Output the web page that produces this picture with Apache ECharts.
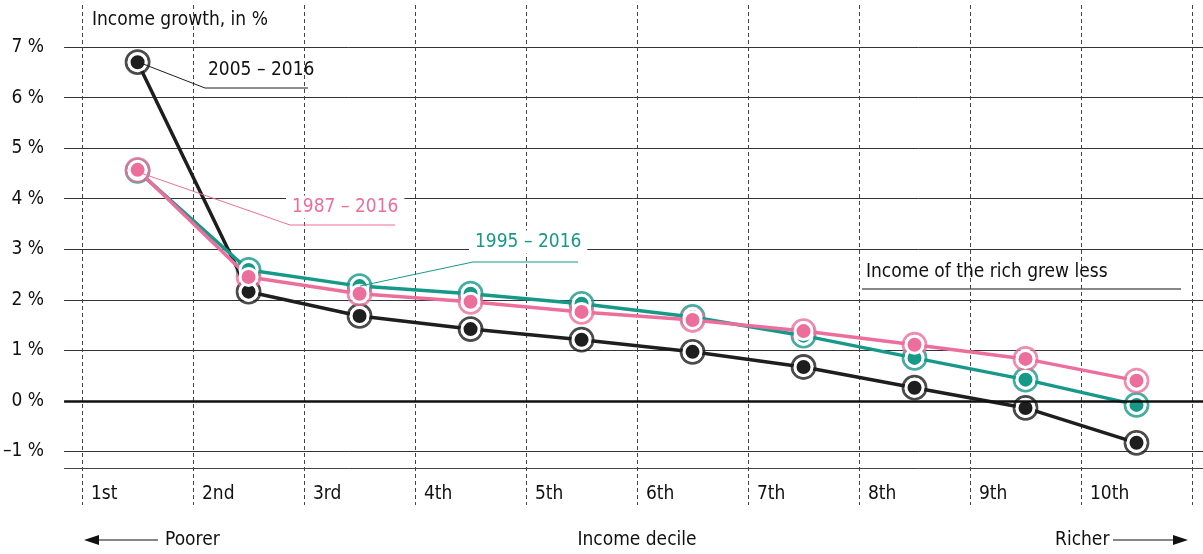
<!DOCTYPE html>
<html>
<head>
<meta charset="utf-8">
<script src="https://cdn.jsdelivr.net/npm/echarts@6/dist/echarts.min.js"></script>
<style>
  html, body { margin: 0; padding: 0; background: #fff; }
  #chart { width: 1203px; height: 554px; }
</style>
</head>
<body>
<div id="chart"></div>
<script>
let deciles = ['1st', '2nd', '3rd', '4th', '5th', '6th', '7th', '8th', '9th', '10th']
let growth2005 = [6.70, 2.16, 1.68, 1.42, 1.21, 0.97, 0.67, 0.26, -0.14, -0.83]
let growth1995 = [4.55, 2.59, 2.27, 2.12, 1.92, 1.66, 1.29, 0.85, 0.42, -0.08]
let growth1987 = [4.57, 2.45, 2.12, 1.96, 1.76, 1.60, 1.38, 1.11, 0.83, 0.40]
// ticks of the value axis (the last one is just the top of the plot)
let yTicks = [-3, -2, -1, 0, 1, 2, 3, 4, 5, 6, 7, 7.5]

let font = "'Liberation Sans Narrow', 'DejaVu Sans Condensed', Roboto, sans-serif"
let black = '#1e1e1e'
let teal = '#17998a'
let pink = '#ec6f9b'

let chart = echarts.init(document.getElementById('chart'))

// x = index + 0.5 puts each point in the middle of its decile band
function toData(arr) {
  return arr.map(function (v, i) {
    return [i + 0.5, v]
  })
}

function lineSeries(name, arr, color) {
  return [{
    name: name + ' ring',
    type: 'scatter',
    xAxisIndex: 0, yAxisIndex: 0,
    data: toData(arr),
    symbol: 'circle',
    symbolSize: 23,
    silent: true,
    itemStyle: { color: 'rgba(0,0,0,0)', borderColor: color, borderWidth: 2.8 }
  }, {
    name: name,
    type: 'line',
    xAxisIndex: 0, yAxisIndex: 0,
    data: toData(arr),
    symbol: 'circle',
    symbolSize: 17,
    silent: true,
    lineStyle: { color: color, width: 3.5 },
    itemStyle: { color: color, borderColor: '#fff', borderWidth: 3 }
  }]
}

// split line colours follow yTicks; 0 is drawn separately as a bold line
let splitColors = yTicks.map(function (v) {
  if (v < -1 || v > 7 || v === 0) return 'rgba(0,0,0,0)'
  return '#333'
})

let series = [].concat(
  lineSeries('2005–2016', growth2005, black),
  lineSeries('1995–2016', growth1995, teal),
  lineSeries('1987–2016', growth1987, pink)
)
series[0].markLine = {
  silent: true,
  symbol: 'none',
  label: { show: false },
  data: [
    { yAxis: 0, lineStyle: { color: '#111', width: 2.5, type: 'solid' } },
    { yAxis: -1.33, lineStyle: { color: '#444', width: 1, type: 'solid' } }
  ]
}

function txt(x, y, text, fill, extra) {
  return {
    type: 'text', x: x, y: y, z: 100,
    style: Object.assign({
      text: text, fill: fill, fontFamily: font, fontSize: 19, verticalAlign: 'middle'
    }, extra || {})
  }
}

let option = {
  backgroundColor: '#fff',
  animation: false,
  grid: [
    { left: 64, right: 0, top: 21.75, bottom: 1.5 },
    { left: 82, right: 11, top: 5, bottom: 49 }
  ],
  xAxis: [{
    gridIndex: 0,
    type: 'value',
    min: -18 / 111,
    max: 10 + 11 / 111,
    show: false
  }, {
    gridIndex: 1,
    type: 'value',
    min: 0,
    max: 10,
    interval: 1,
    axisLine: { show: false },
    axisTick: { show: false },
    splitLine: { show: true, lineStyle: { color: '#444', width: 1, type: [4, 3] } },
    axisLabel: {
      inside: true,
      margin: 1,
      align: 'left',
      padding: [0, 0, 0, 9],
      color: '#111',
      fontFamily: font,
      fontSize: 19,
      formatter: function (v) { return deciles[v] || '' }
    }
  }],
  yAxis: [{
    gridIndex: 0,
    type: 'value',
    min: -3,
    max: 7.5,
    interval: 1,
    axisLine: { show: false },
    axisTick: { show: false },
    splitLine: { show: true, lineStyle: { color: splitColors, width: 1 } },
    axisLabel: {
      margin: 20,
      color: '#111',
      fontFamily: font,
      fontSize: 19,
      formatter: function (v) {
        if (v < -1 || v > 7 || v % 1 !== 0) return ''
        return (v < 0 ? '–' + Math.abs(v) : v) + ' %'
      }
    }
  }, {
    gridIndex: 1,
    type: 'value',
    min: 0,
    max: 1,
    show: false
  }],
  series: series,
  graphic: [
    txt(92, 20, 'Income growth, in %', '#111'),

    { type: 'polyline', z: 100, shape: { points: [[138, 62], [205, 88], [308, 88]] }, style: { stroke: black, lineWidth: 1, fill: null } },
    txt(208, 70, '2005 – 2016', '#111'),

    { type: 'polyline', z: 100, shape: { points: [[138, 172], [290, 225], [395, 225]] }, style: { stroke: pink, lineWidth: 1, fill: null } },
    txt(286, 207, '1987 – 2016', pink, { backgroundColor: '#fff', padding: [2, 6] }),

    { type: 'polyline', z: 100, shape: { points: [[360, 286], [473, 262], [578, 262]] }, style: { stroke: teal, lineWidth: 1, fill: null } },
    txt(469, 242, '1995 – 2016', teal, { backgroundColor: '#fff', padding: [2, 6] }),

    txt(866, 272, 'Income of the rich grew less', '#111'),
    { type: 'line', shape: { x1: 862, y1: 289, x2: 1181, y2: 289 }, style: { stroke: '#111', lineWidth: 1 } },

    // bottom axis name and arrows
    txt(637, 540, 'Income decile', '#111', { align: 'center' }),
    txt(165, 540, 'Poorer', '#111'),
    { type: 'line', shape: { x1: 96, y1: 540, x2: 158, y2: 540 }, style: { stroke: '#111', lineWidth: 1.2 } },
    { type: 'polygon', shape: { points: [[84, 540], [99, 535], [99, 545]] }, style: { fill: '#111' } },
    txt(1055, 540, 'Richer', '#111'),
    { type: 'line', shape: { x1: 1113, y1: 540, x2: 1176, y2: 540 }, style: { stroke: '#111', lineWidth: 1.2 } },
    { type: 'polygon', shape: { points: [[1188, 540], [1173, 535], [1173, 545]] }, style: { fill: '#111' } }
  ]
}
chart.setOption(option)
</script>
</body>
</html>
